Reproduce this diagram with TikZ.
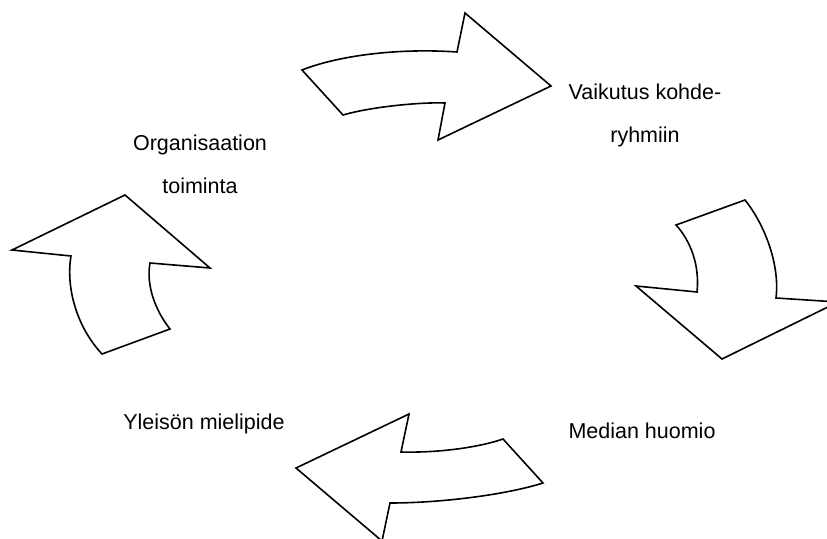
\documentclass[tikz,border=0pt]{standalone}
\usepackage{fontspec}
\setmainfont{Liberation Sans}
\usepackage{tikz}
\tikzstyle{stagetext} = [inner sep=0pt, align=center, font=\fontsize{21.5}{42.5}\selectfont]
\tikzstyle{cyclearrow} = [draw, fill=white, line width=1.6pt, line join=miter]

\begin{document}
\begin{tikzpicture}[x=1pt, y=-1pt]
    \useasboundingbox (0,0) rectangle (827,538);
    \clip (0,0) rectangle (827,538);

        % nodes
        \node (impact) [stagetext, anchor=base] at (645,142) {Vaikutus kohde-\\ryhmiin};
        \node (organisation) [stagetext, anchor=base] at (200,193) {Organisaation\\toiminta};
        \node (opinion) [stagetext, anchor=base] at (204,429) {Yleisön mielipide};
        \node (media) [stagetext, anchor=base] at (642,438) {Median huomio};

        % arrows
        \path [cyclearrow] (302,70) .. controls (340,55) and (400,48) .. (457,52)
            -- (465,13) -- (551,86) -- (438,140) -- (445,103)
            .. controls (420,102) and (370,107) .. (343,115) -- cycle;
        \path [cyclearrow] (676,225) -- (745,200) .. controls (765,225) and (780,265) .. (776,298)
            -- (838,302) -- (722,359) -- (636,286) -- (697,292)
            .. controls (700,265) and (690,240) .. cycle;
        \path [cyclearrow] (102,354) .. controls (75,325) and (66,285) .. (71,256)
            -- (12,250) -- (125,195) -- (210,268) -- (150,263)
            .. controls (146,285) and (155,310) .. (170,329) -- cycle;
        \path [cyclearrow] (543,483) .. controls (505,495) and (440,503) .. (390,503)
            -- (382,541) -- (296,468) -- (409,414) -- (401,452)
            .. controls (440,453) and (480,447) .. (503,439) -- cycle;

    \end{tikzpicture}
\end{document}
